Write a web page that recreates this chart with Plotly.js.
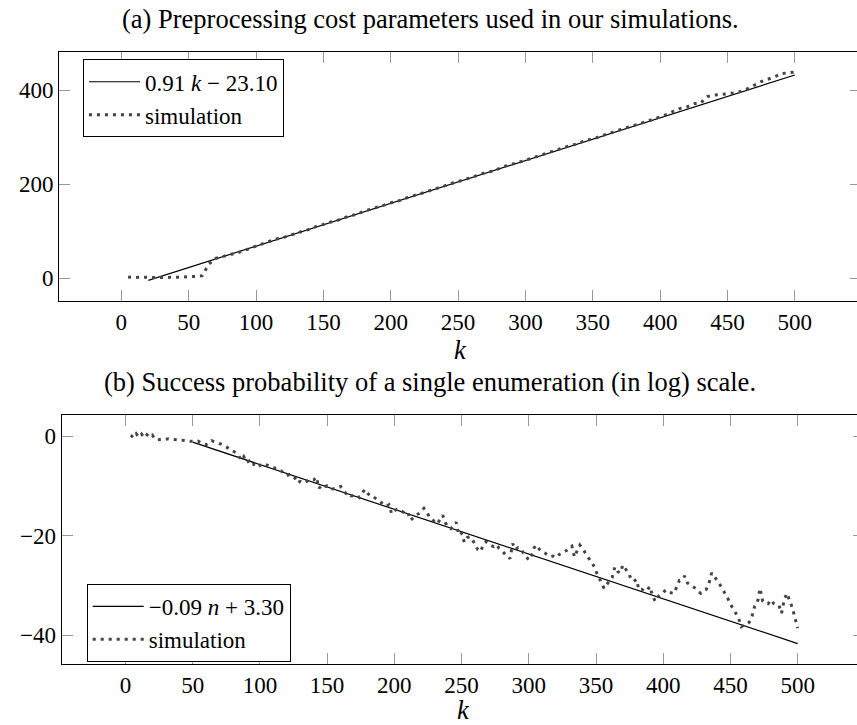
<!DOCTYPE html>
<html><head><meta charset="utf-8">
<script src="https://cdn.plot.ly/plotly-3.0.1.min.js"></script>
<style>html,body{margin:0;padding:0;overflow:hidden;background:#fff}</style>
</head><body><div id="chart" style="width:870px;height:725px"></div>
<script>
const W = 870, H = 725;

// ---- (a) preprocessing cost ----
const fitAK = [20, 500];
const fitAY = [-4.9, 431.9];
const simAStart = 5, simAStep = 5;
const simAY = [
  2, 1, 2, 1, 1, 1, 1, 2, 2, 3,
  3, 5, 30, 42, 45, 50, 52, 58, 62, 68,
  73, 77, 83, 86, 91, 96, 100, 104, 110, 114,
  119, 122, 128, 132, 136, 142, 146, 150, 155, 160,
  163, 169, 173, 178, 182, 187, 191, 196, 201, 205,
  209, 214, 219, 224, 227, 233, 238, 242, 246, 251,
  255, 260, 265, 269, 274, 279, 283, 287, 294, 295,
  301, 306, 310, 315, 320, 324, 328, 333, 338, 343,
  348, 355, 361, 364, 371, 372, 386, 389, 390, 392,
  394, 397, 403, 410, 418, 423, 428, 435, 437, 438
];
const yTicksA = [0, 200, 400];

// ---- (b) success probability (log) ----
const fitBK = [50, 500];
const fitBY = [-1.2, -41.7];
const simBStart = 4, simBStep = 2;
const simBY = [
  0.2, -0.3, 0.5, -0.2, 0.4, -0.3, 0.3, -0.2, 0.2, -0.6,
  -0.7, -0.7, -0.6, -0.6, -0.5, -0.6, -0.7, -0.8, -0.8, -0.8,
  -0.9, -0.9, -1.0, -1.0, -1.1, -1.0, -1.3, -1.6, -1.7, -1.2,
  -0.9, -1.1, -1.3, -1.4, -1.7, -2.0, -2.3, -2.7, -3.0, -3.3,
  -3.8, -4.8, -4.1, -5.3, -5.0, -5.8, -5.6, -6.2, -5.9, -5.5,
  -5.7, -5.9, -6.0, -6.3, -6.5, -6.8, -7.0, -7.6, -7.9, -7.7,
  -8.1, -8.4, -9.4, -9.1, -9.4, -9.2, -8.9, -8.7, -8.8, -8.2,
  -10.5, -9.8, -10.1, -10.0, -10.3, -10.6, -10.5, -10.2, -10.1, -10.9,
  -11.5, -11.4, -12.0, -11.9, -11.8, -12.3, -11.6, -10.7, -11.4, -12.0,
  -12.1, -12.5, -12.8, -13.2, -13.6, -14.1, -13.8, -15.6, -15.0, -14.7,
  -14.8, -15.2, -15.5, -15.3, -16.9, -16.4, -15.8, -15.6, -15.0, -14.5,
  -15.2, -16.2, -16.6, -17.3, -17.6, -16.8, -15.9, -17.4, -18.3, -18.6,
  -18.0, -17.3, -19.9, -19.5, -21.3, -20.4, -20.2, -20.8, -21.7, -22.8,
  -23.2, -22.0, -21.2, -21.6, -22.0, -22.2, -21.8, -22.6, -23.0, -23.6,
  -24.2, -24.6, -21.6, -22.8, -22.4, -22.6, -23.5, -24.2, -24.9, -24.0,
  -22.4, -21.9, -22.8, -23.3, -23.5, -23.9, -24.2, -24.1, -24.4, -23.9,
  -23.5, -23.2, -23.0, -22.4, -22.1, -24.3, -23.0, -21.9, -22.6, -23.6,
  -24.3, -25.1, -25.9, -27.2, -28.3, -29.6, -30.6, -29.8, -29.2, -28.4,
  -26.3, -27.2, -27.5, -25.9, -26.7, -27.5, -28.6, -29.2, -28.8, -30.9,
  -30.8, -31.2, -31.0, -30.2, -32.0, -33.2, -32.3, -31.9, -31.4, -30.9,
  -31.2, -31.5, -31.6, -30.3, -29.0, -28.9, -28.1, -29.5, -29.9, -30.3,
  -30.6, -31.2, -31.6, -31.1, -30.8, -29.6, -27.5, -28.2, -28.9, -29.8,
  -30.7, -31.6, -32.6, -33.8, -34.6, -35.6, -36.6, -38.3, -38.0, -37.9,
  -37.4, -36.2, -34.2, -33.5, -30.6, -33.2, -33.5, -33.7, -32.9, -33.6,
  -33.9, -34.0, -35.6, -32.8, -31.6, -33.2, -34.5, -36.6, -38.6
];
const yTicksB = [-40, -20, 0];
const xTicks = [0, 50, 100, 150, 200, 250, 300, 350, 400, 450, 500];

const serif = 'Liberation Serif';
const fitStyle = {color: '#000', width: 1.2};
const simStyle = {color: '#444', width: 3, dash: '3px,5px'};

const traces = [
  {x: fitAK, y: fitAY, xaxis: 'x', yaxis: 'y', mode: 'lines', name: '0.91 <i>k</i> − 23.10', line: fitStyle, legend: 'legend'},
  {y: simAY, x0: simAStart, dx: simAStep, xaxis: 'x', yaxis: 'y', mode: 'lines', name: 'simulation', line: simStyle, legend: 'legend'},
  {x: fitBK, y: fitBY, xaxis: 'x2', yaxis: 'y2', mode: 'lines', name: '−0.09 <i>n</i> + 3.30', line: fitStyle, legend: 'legend2'},
  {y: simBY, x0: simBStart, dx: simBStep, xaxis: 'x2', yaxis: 'y2', mode: 'lines', name: 'simulation', line: simStyle, legend: 'legend2'}
];

const tickFont = {family: serif, size: 23, color: '#000'};
function axis(extra) {
  return Object.assign({
    showline: true, linecolor: '#000', linewidth: 1, mirror: 'ticks',
    ticks: 'inside', ticklen: 11, tickwidth: 1, tickcolor: '#999',
    showgrid: false, zeroline: false, tickfont: tickFont, tickmode: 'array',
    automargin: false, fixedrange: true
  }, extra);
}
const legendBase = {
  xanchor: 'left', yanchor: 'top', bgcolor: '#fff', bordercolor: '#000', borderwidth: 1,
  font: {family: serif, size: 23, color: '#000'}, traceorder: 'normal', itemwidth: 51
};
const titleFont = {family: serif, size: 26.5, color: '#000'};

const layout = {
  width: W, height: H, margin: {l: 0, r: 0, t: 0, b: 0},
  paper_bgcolor: '#fff', plot_bgcolor: '#fff', showlegend: true,
  xaxis: axis({domain: [59 / W, 861 / W], range: [-46.3, 549.1], anchor: 'y', tickvals: xTicks,
    title: {text: '<i>k</i>', font: titleFont, standoff: 0}}),
  yaxis: axis({domain: [1 - 301 / H, 1 - 52 / H], range: [-48.9, 480.9], anchor: 'x', tickvals: yTicksA}),
  xaxis2: axis({domain: [61.7 / W, 864 / W], range: [-47.4, 549.3], anchor: 'y2', tickvals: xTicks,
    title: {text: '<i>k</i>', font: titleFont, standoff: 2}}),
  yaxis2: axis({domain: [1 - 664 / H, 1 - 415.3 / H], range: [-45.8, 4.2], anchor: 'x2', tickvals: yTicksB,
    ticktext: ['−40', '−20', '0']}),
  legend: Object.assign({x: 83 / W, y: 1 - 59.3 / H}, legendBase),
  legend2: Object.assign({x: 86.7 / W, y: 1 - 584 / H}, legendBase),
  annotations: [
    {text: '(a) Preprocessing cost parameters used in our simulations.', xref: 'paper', yref: 'paper',
     x: 430 / W, y: 1 - 19 / H, xanchor: 'center', yanchor: 'middle', showarrow: false, font: titleFont},
    {text: '(b) Success probability of a single enumeration (in log) scale.', xref: 'paper', yref: 'paper',
     x: 430 / W, y: 1 - 382 / H, xanchor: 'center', yanchor: 'middle', showarrow: false, font: titleFont}
  ]
};

Plotly.newPlot('chart', traces, layout, {staticPlot: true, displayModeBar: false});
</script>
</body></html>
